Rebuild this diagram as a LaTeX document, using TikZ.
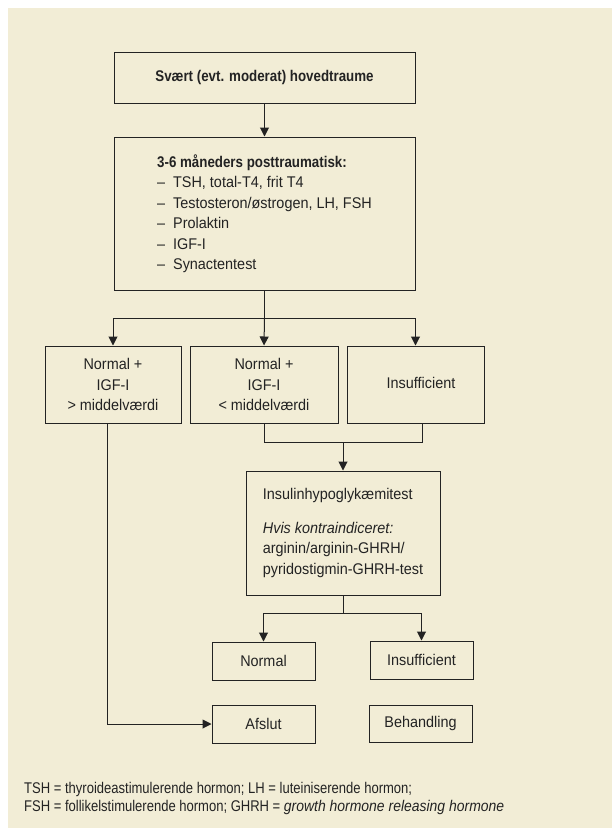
\documentclass[tikz,border=0pt]{standalone}
\usepackage{fontspec}
\setmainfont{Liberation Sans}[FakeStretch=0.93, BoldFeatures={FakeStretch=0.86}]
\newfontfamily\notefont{Liberation Sans}[FakeStretch=0.84, ItalicFeatures={FakeStretch=0.9}]
\usetikzlibrary{arrows.meta}
\definecolor{bgbeige}{RGB}{242,237,214}
\definecolor{linegray}{RGB}{35,35,35}

\begin{document}
\begin{tikzpicture}[x=1pt,y=-1pt,>={Triangle[length=9pt,width=9pt]},font=\fontsize{15.5}{20.5}\selectfont]

    % Define node styles
    \tikzstyle{flow_block} = [draw=linegray, line width=1pt, inner sep=0pt, text=linegray, text centered, align=center]
    \tikzstyle{list_block} = [draw=linegray, line width=1pt, inner sep=0pt, text=linegray, align=left]
    \tikzstyle{flow_line} = [draw=linegray, line width=1pt]

    % Background
    \useasboundingbox (0,0) rectangle (612,828);
    \fill [bgbeige] (8,8) rectangle (612,828);

    % Draw nodes
    \node [flow_block, minimum width=301pt, minimum height=51pt] (trauma) at (264.5,77.5) {\bfseries Svært (evt. moderat) hovedtraume};
    \node [list_block, minimum width=301pt, minimum height=153pt] (posttrauma) at (264.5,213.5) {%
        \textbf{3-6 måneders posttraumatisk:}\\
        \makebox[16pt][l]{–}TSH, total-T4, frit T4\\
        \makebox[16pt][l]{–}Testosteron/østrogen, LH, FSH\\
        \makebox[16pt][l]{–}Prolaktin\\
        \makebox[16pt][l]{–}IGF-I\\
        \makebox[16pt][l]{–}Synactentest};
    \node [flow_block, minimum width=136pt, minimum height=77pt] (normal_high) at (113,384.5) {Normal +\\IGF-I\\> middelværdi};
    \node [flow_block, minimum width=148pt, minimum height=77pt] (normal_low) at (264,384.5) {Normal +\\IGF-I\\< middelværdi};
    \node [flow_block, minimum width=137pt, minimum height=77pt] (insufficient_1) at (415.5,384.5) {\raisebox{4pt}{\hspace{11pt}Insufficient}};
    \node [list_block, minimum width=194pt, minimum height=124pt] (ith_test) at (343,533) {%
        Insulinhypoglykæmitest\\[13pt]
        \textit{Hvis kontraindiceret:}\\
        arginin/arginin-GHRH/\\
        pyridostigmin-GHRH-test};
    \node [flow_block, minimum width=103pt, minimum height=38pt] (normal_result) at (263.5,661) {Normal};
    \node [flow_block, minimum width=103pt, minimum height=38pt] (insufficient_2) at (421.5,660) {Insufficient};
    \node [flow_block, minimum width=103pt, minimum height=38pt] (stop) at (263.5,724) {Afslut};
    \node [flow_block, minimum width=103pt, minimum height=37pt] (treatment) at (420.5,723.5) {Behandling};
    \node [anchor=west, align=left, inner sep=0pt, text=linegray, font=\notefont\fontsize{15.5}{18}\selectfont] (abbreviations) at (24,798) {%
        TSH = thyroideastimulerende hormon; LH = luteiniserende hormon;\\
        FSH = follikelstimulerende hormon; GHRH = \textit{growth hormone releasing hormone}};

    % Branch points
    \coordinate (split_1) at (264.5,318);
    \coordinate (join_1) at (343,442);
    \coordinate (split_2) at (343,613);

    % Draw arrows
    \draw [->, flow_line] (trauma) -- (posttrauma);
    \draw [flow_line] (posttrauma.south) -- (split_1);
    \draw [->, flow_line] (split_1) -| (normal_high.north);
    \draw [->, flow_line] (split_1) -- (normal_low.north);
    \draw [->, flow_line] (split_1) -| (insufficient_1.north);

    \draw [flow_line] (normal_low.south) |- (join_1);
    \draw [flow_line] ([xshift=6.5pt]insufficient_1.south) |- (join_1);
    \draw [->, flow_line] (join_1) -- (ith_test.north);

    \draw [flow_line] (ith_test.south) -- (split_2);
    \draw [->, flow_line] (split_2) -| (normal_result.north);
    \draw [->, flow_line] (split_2) -| (insufficient_2.north);

    \draw [->, flow_line] ([xshift=-6pt]normal_high.south) |- (stop.west);
\end{tikzpicture}
\end{document}
